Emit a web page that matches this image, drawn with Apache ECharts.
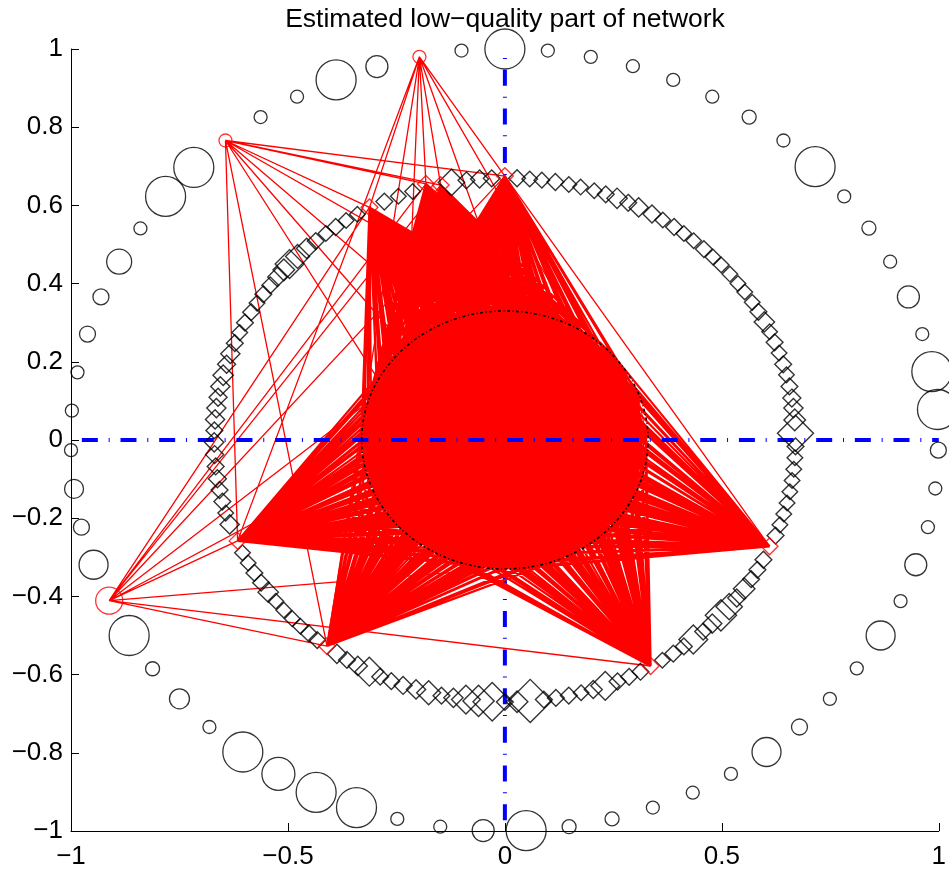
<!DOCTYPE html>
<html><head><meta charset="utf-8">
<script src="https://cdn.jsdelivr.net/npm/echarts@6/dist/echarts.min.js"></script>
<style>html,body{margin:0;padding:0;background:#fff}#c{width:949px;height:871px}</style>
</head><body><div id="c"></div>
<script>
// ---------- data ----------
const titleText = 'Estimated low\u2212quality part of network';
const xTicks = [-1, -0.5, 0, 0.5, 1];
const yTicks = [-1, -0.8, -0.6, -0.4, -0.2, 0, 0.2, 0.4, 0.6, 0.8, 1];

// outer ring of circles (x, y, marker diameter)
const outerX = [0.997,0.984,0.962,0.930,0.888,0.839,0.782,0.715,0.642,0.563,0.478,0.388,0.295,0.198,0.099,0.000,-0.100,
  -0.295,-0.389,-0.479,-0.563,-0.717,-0.782,-0.840,-0.889,-0.931,-0.962,-0.985,-0.998,-1.000,-0.993,-0.976,-0.948,
  -0.866,-0.812,-0.750,-0.681,-0.604,-0.522,-0.435,-0.342,-0.248,-0.149,-0.050,0.049,0.148,0.247,0.341,0.433,0.521,
  0.603,0.679,0.749,0.811,0.866,0.912,0.947,0.975,0.992,0.999];
const outerY = [0.078,0.175,0.271,0.366,0.456,0.542,0.623,0.699,0.766,0.826,0.878,0.921,0.956,0.980,0.996,1.000,0.996,
  0.955,0.921,0.878,0.826,0.697,0.623,0.541,0.456,0.366,0.271,0.173,0.075,-0.026,-0.125,-0.223,-0.319,
  -0.500,-0.585,-0.662,-0.734,-0.798,-0.854,-0.901,-0.940,-0.969,-0.989,-0.999,-0.999,-0.989,-0.969,-0.940,-0.902,-0.854,
  -0.798,-0.734,-0.662,-0.584,-0.500,-0.412,-0.319,-0.223,-0.124,-0.026];
const outerSize = [40,40,13,22,13,14,13,40,13,14,13,13,13,13,13,40,13,
  22,40,13,13,40,40,13,25,16,16,13,13,13,19,16,29,
  40,14,20,13,40,33,40,40,13,13,22,40,14,14,13,13,13,
  29,16,13,13,29,13,22,13,13,16];

// inner ring of diamonds (angle in degrees on the ring, marker diameter)
const ringRadius = 0.67;
const ringAngle = [1.5,4.4,7.0,9.2,11.8,14.4,16.8,19.4,21.9,24.4,26.8,29.3,31.7,34.4,36.7,39.3,41.9,44.3,46.8,49.5,
  52.0,54.4,57.1,59.6,62.6,64.9,67.3,69.7,72.1,74.9,77.3,80.0,82.7,85.1,87.6,
  92.6,95.0,97.6,100.6,108.5,111.5,114.5,120.5,123.1,125.6,128.0,130.6,133.0,135.5,137.8,139.5,141.5,143.8,146.2,148.5,
  150.8,153.4,155.8,158.3,160.8,163.2,165.7,168.2,170.6,173.0,175.5,177.9,
  180.5,183.2,185.8,188.5,191.0,193.6,196.2,198.8,205.5,208.0,210.5,213.0,215.5,218.0,220.5,223.0,225.3,227.6,229.8,
  234.7,237.1,239.6,242.2,244.6,247.0,249.5,252.2,254.8,257.4,259.8,262.3,264.8,267.5,
  270.0,272.4,275.0,277.7,280.1,282.7,285.2,287.7,290.2,292.8,295.3,297.8,302.8,305.4,308.0,310.4,313.0,315.5,318.0,
  320.5,322.9,325.4,327.9,330.3,332.8,338.6,341.1,343.6,346.1,348.6,351.1,353.6,356.1,358.6];
const ringSize = [30,18,16,15,14,13,14,13,14,13,17,14,13,13,13,13,13,13,14,13,
  13,14,13,15,16,14,17,14,13,13,13,14,13,13,14,
  14,15,14,22,13,13,14,13,13,14,13,14,17,20,24,18,16,14,14,13,
  14,14,13,14,16,15,17,16,15,16,16,14,
  16,15,14,15,14,14,13,16,13,13,14,14,17,13,13,13,13,14,14,
  16,14,16,24,14,14,15,16,20,14,16,24,26,32,
  14,18,36,14,14,14,13,15,24,14,14,14,13,14,14,24,14,16,26,
  22,15,18,14,14,14,14,13,13,13,13,13,13,13,14];

// hub nodes (red markers)
const outerHubNames = ['P1', 'P2', 'P3'];
const outerHubX = [-0.197, -0.644, -0.912];
const outerHubY = [0.980, 0.766, -0.411];
const outerHubSize = [13, 13, 27];
const innerHubNames = ['T', 'B2', 'B1', 'A', 'L', 'BL', 'BR', 'R'];
const innerHubX = [0.000, -0.148, -0.182, -0.312, -0.616, -0.410, 0.336, 0.610];
const innerHubY = [0.675, 0.652, 0.655, 0.595, -0.258, -0.527, -0.578, -0.272];

// core (low-quality) nodes inside the guide circle
const coreX = [
  0.325,0.311,0.306,0.276,0.253,0.206,0.168,0.124,0.067,0.012,-0.039,-0.091,-0.140,-0.189,-0.226,-0.268,-0.287,-0.316,
  -0.309,-0.324,-0.331,-0.317,-0.309,-0.283,-0.257,-0.215,-0.179,-0.127,-0.080,-0.028,0.029,0.078,0.129,0.175,0.220,
  0.256,0.289,0.304,0.324,
  0.248,0.223,0.210,0.161,0.116,0.054,-0.009,-0.063,-0.120,-0.157,-0.216,-0.229,-0.253,-0.238,-0.244,-0.203,-0.174,
  -0.116,-0.072,-0.009,0.053,0.101,0.164,0.193,0.233,0.236,
  0.155,0.139,0.086,0.043,-0.014,-0.072,-0.113,-0.136,-0.164,-0.150,-0.139,-0.092,-0.039,0.014,0.066,0.120,0.145,0.149,
  0.070,0.035,-0.030,-0.070,-0.055,0.000,0.055,0.005,
  0.277,0.205,0.085,-0.055,-0.182,-0.267,-0.289,-0.243,-0.141,-0.005,0.132,0.238,0.288,
  0.198,0.095,-0.105,-0.200,-0.092,0.108];
const coreY = [
  0.017,0.066,0.118,0.166,0.212,0.245,0.280,0.307,0.315,0.330,0.322,0.316,0.288,0.270,0.234,0.195,0.146,0.096,
  0.121,0.046,-0.006,-0.056,-0.113,-0.157,-0.208,-0.239,-0.275,-0.300,-0.321,-0.322,-0.329,-0.314,-0.304,-0.270,-0.244,
  -0.200,-0.160,-0.105,-0.057,
  0.035,0.090,0.153,0.185,0.227,0.234,0.260,0.237,0.225,0.181,0.145,0.088,0.031,-0.029,-0.089,-0.137,-0.187,
  -0.210,-0.250,-0.245,-0.249,-0.218,-0.202,-0.151,-0.104,-0.046,
  0.041,0.098,0.123,0.159,0.154,0.154,0.113,0.063,0.014,-0.040,-0.098,-0.131,-0.145,-0.164,-0.140,-0.120,-0.068,-0.013,
  0.010,0.065,0.060,0.015,-0.045,-0.075,-0.040,0.002,
  0.085,0.205,0.277,0.285,0.225,0.113,-0.025,-0.158,-0.254,-0.290,-0.258,-0.166,-0.035,
  0.012,0.178,0.170,-0.010,-0.180,-0.170];
const guideRadius = 0.33;

// extra edges between named nodes (cN = core node N)
const extraEdges = [
  ['P1','A'],['P1','B1'],['P1','B2'],['P1','T'],['P1','L'],['P1','BL'],['P1','c14'],['P1','c9'],['P1','c6'],
  ['P2','T'],['P2','B2'],['P2','B1'],['P2','A'],['P2','L'],['P2','BL'],['P2','c14'],['P2','c16'],['P2','c12'],['P2','c8'],
  ['P3','L'],['P3','BL'],['P3','BR'],['P3','R'],['P3','A'],['P3','B1'],['P3','B2'],['P3','T'],['P3','c17'],['P3','c21'],
  ['T','R']
];

// ---------- build ----------
const nodeXY = {};
outerHubNames.forEach((n, i) => nodeXY[n] = [outerHubX[i], outerHubY[i]]);
innerHubNames.forEach((n, i) => nodeXY[n] = [innerHubX[i], innerHubY[i]]);
coreX.forEach((x, i) => nodeXY['c' + i] = [x, coreY[i]]);

const fanData = [];
innerHubNames.forEach(h => coreX.forEach((x, i) => fanData.push({coords: [nodeXY[h], nodeXY['c' + i]]})));
const meshData = [];
for (let i = 0; i < coreX.length; i++)
  for (let j = i + 1; j < coreX.length; j++)
    meshData.push({coords: [nodeXY['c' + i], nodeXY['c' + j]]});
const extraData = extraEdges.map(e => ({coords: [nodeXY[e[0]], nodeXY[e[1]]]}));

const outerData = outerX.map((x, i) => [x, outerY[i], outerSize[i]]);
const ringData = ringAngle.map((a, i) => [ringRadius * Math.cos(a * Math.PI / 180), ringRadius * Math.sin(a * Math.PI / 180), ringSize[i]]);
const outerHubData = outerHubX.map((x, i) => [x, outerHubY[i], outerHubSize[i]]);
const innerHubData = innerHubX.map((x, i) => [x, innerHubY[i], 14]);

const FONT = '"Liberation Sans", Arial, Helvetica, sans-serif';
const fmt = v => (v < -1e-9 ? '\u2212' : '') + String(Math.round(Math.abs(v) * 10) / 10);
const DIAMOND_SCALE = 1.2;
const RED = '#ff0000';

const linesSeries = (data, width) => ({
  type: 'lines', coordinateSystem: 'cartesian2d', z: 2, silent: true, clip: false, polyline: false,
  large: true, largeThreshold: 10,
  lineStyle: {color: RED, width: width, opacity: 1, curveness: 0},
  data: data
});

const chart = echarts.init(document.getElementById('c'), null, {renderer: 'canvas'});
chart.setOption({
  animation: false,
  backgroundColor: '#fff',
  title: {
    text: titleText, left: 500, top: 1, textAlign: 'center', textVerticalAlign: 'top',
    textStyle: {fontSize: 26.5, fontWeight: 'normal', color: '#000', fontFamily: FONT}
  },
  grid: {left: 71, right: 10, top: 49, bottom: 40, containLabel: false},
  xAxis: {
    type: 'value', min: -1, max: 1, interval: 0.5,
    axisLine: {show: true, onZero: false, lineStyle: {color: '#000', width: 1}},
    axisTick: {show: true, inside: true, length: 8, customValues: xTicks, lineStyle: {color: '#000'}},
    axisLabel: {fontSize: 26, color: '#000', fontFamily: FONT, margin: 13, customValues: xTicks, formatter: fmt},
    splitLine: {show: false}
  },
  yAxis: {
    type: 'value', min: -1, max: 1, interval: 0.2,
    axisLine: {show: true, onZero: false, lineStyle: {color: '#000', width: 1}},
    axisTick: {show: true, inside: true, length: 8, customValues: yTicks, lineStyle: {color: '#000'}},
    axisLabel: {fontSize: 26, color: '#000', fontFamily: FONT, margin: 8, customValues: yTicks, formatter: fmt},
    splitLine: {show: false}
  },
  series: [
    {
      type: 'line', z: 1, data: [[0, -1], [0, 1]], symbol: 'none', silent: true, clip: false,
      lineStyle: {color: '#0000ff', width: 4, type: [16, 10.8, 1, 10.85], dashOffset: 27.8, cap: 'butt'}
    },
    linesSeries(fanData, 2.2),
    linesSeries(meshData, 1),
    linesSeries(extraData, 1.3),
    {
      type: 'line', z: 3, data: [[-1, 0], [1, 0]], symbol: 'none', silent: true, clip: false,
      lineStyle: {color: '#0000ff', width: 4, type: [16, 10.8, 1, 10.85], dashOffset: 27.8, cap: 'butt'}
    },
    {
      type: 'scatter', z: 4, silent: true, clip: false, symbol: 'diamond',
      symbolSize: d => d[2] * DIAMOND_SCALE, data: ringData,
      itemStyle: {color: 'rgba(0,0,0,0)', borderColor: '#000', borderWidth: 1.4}
    },
    {
      type: 'scatter', z: 4, silent: true, clip: false, symbol: 'circle',
      symbolSize: d => d[2], data: outerData,
      itemStyle: {color: 'rgba(0,0,0,0)', borderColor: '#000', borderWidth: 1.3}
    },
    {
      type: 'custom', coordinateSystem: 'cartesian2d', z: 5, silent: true, clip: false,
      data: [[0, 0, guideRadius]],
      renderItem: (params, api) => {
        const c = api.coord([api.value(0), api.value(1)]);
        const s = api.size([api.value(2), api.value(2)]);
        return {
          type: 'ellipse', shape: {cx: c[0], cy: c[1], rx: s[0], ry: s[1]},
          style: {fill: 'none', stroke: '#000', lineWidth: 1.6, lineDash: [3, 2.5, 1, 2.5]}
        };
      }
    },
    {
      type: 'scatter', z: 6, silent: true, clip: false, symbol: 'diamond',
      symbolSize: d => d[2] * DIAMOND_SCALE, data: innerHubData,
      itemStyle: {color: 'rgba(0,0,0,0)', borderColor: RED, borderWidth: 1.4}
    },
    {
      type: 'scatter', z: 6, silent: true, clip: false, symbol: 'circle',
      symbolSize: d => d[2], data: outerHubData,
      itemStyle: {color: 'rgba(0,0,0,0)', borderColor: RED, borderWidth: 1.3}
    }
  ]
});
</script>
</body></html>
